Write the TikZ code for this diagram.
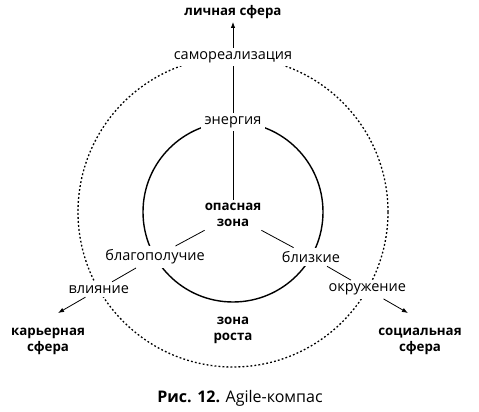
\documentclass[tikz,border=0pt]{standalone}
\usepackage{fontspec}
\setmainfont{Open Sans}
\usetikzlibrary{positioning,arrows.meta,calc}

\begin{document}
\begin{tikzpicture}[x=1pt,y=1pt,>={Latex[length=6pt,width=4.5pt]},
    lbl/.style={fill=white,inner sep=3.5pt,font=\fontsize{14.5}{17}\selectfont},
    zone/.style={align=center,font=\fontsize{13.3}{16}\selectfont\bfseries},
    spoke/.style={line width=0.8pt}]
  \useasboundingbox (0,0) rectangle (479,412);
  \coordinate (c) at (233,200);
  \draw[line width=1.4pt] (c) circle (90pt);
  \draw[line width=1.3pt,dash pattern=on 1.8pt off 2.2pt] (c) circle (155pt);
  \node[zone] (danger) at (233,197) {опасная\\зона};
  \node[zone] (growth) at (233,82) {зона\\роста};
  \node[lbl] (energy) at ($(c)+(90:90pt)$) {энергия};
  \node[lbl] (blago) at ($(c)+(210:90pt)$) {благополучие};
  \node[lbl] (blizk) at ($(c)+(330:90pt)$) {близкие};
  \node[lbl] (samo) at ($(c)+(90:155pt)$) {самореализация};
  \node[lbl] (vliyan) at ($(c)+(210:155pt)$) {влияние};
  \node[lbl] (okruzh) at ($(c)+(330:155pt)$) {окружение};
  \node[zone] (lich) at (233,400) {личная сфера};
  \node[zone] (karier) at (48,71) {карьерная\\сфера};
  \node[zone] (social) at (420,71) {социальная\\сфера};
  \coordinate (tipT) at ($(c)+(90:190pt)$);
  \coordinate (tipL) at ($(c)+(210:202pt)$);
  \coordinate (tipR) at ($(c)+(330:202pt)$);
  \draw[spoke] (danger) -- (energy) (energy) -- (samo);
  \draw[spoke] (danger) -- (blago) (blago) -- (vliyan);
  \draw[spoke] (danger) -- (blizk) (blizk) -- (okruzh);
  \draw[spoke,->] (samo) -- (tipT);
  \draw[spoke,->] (vliyan) -- (tipL);
  \draw[spoke,->] (okruzh) -- (tipR);
  \node[font=\fontsize{16}{18}\selectfont] (cap) at (240,14) {\textbf{Рис. 12.} Agile-компас};
\end{tikzpicture}
\end{document}
